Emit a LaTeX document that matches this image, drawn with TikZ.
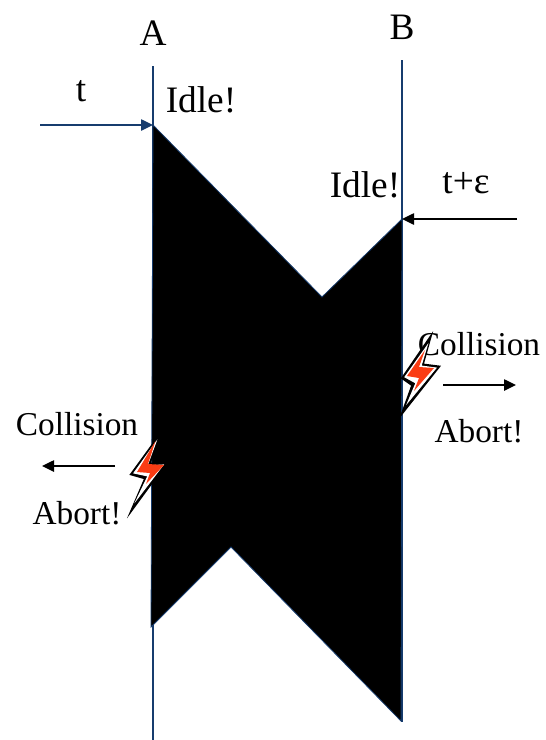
\documentclass[tikz,border=0pt]{standalone}
\usepackage{fontspec}
\setmainfont{Liberation Serif}
\usetikzlibrary{arrows.meta}
\definecolor{navy}{RGB}{22,60,110}
\definecolor{boltred}{RGB}{250,60,20}
\tikzset{
  x=0.75pt,y=-0.75pt,
  lab/.style={font=\fontsize{25}{28}\selectfont,inner sep=0pt,text=black},
  biglab/.style={font=\fontsize{28}{30}\selectfont,inner sep=0pt,text=black},
  wire/.style={draw=navy,line width=1.1pt},
  navarrow/.style={draw=navy,line width=1.1pt,-{Triangle[length=9pt,width=8.5pt]}},
  blkarrow/.style={draw=black,line width=1.1pt,-{Triangle[length=9pt,width=8.5pt]}},
  boltouter/.style={draw=black,fill=black,line width=2.4pt,miter limit=10,line join=miter},
  boltmid/.style={draw=white,fill=white,line width=0.8pt,miter limit=10},
  boltin/.style={fill=boltred}
}
\begin{document}
\begin{tikzpicture}
\useasboundingbox (0,0) rectangle (546,740);
\fill[white] (0,0) rectangle (546,740);
% timelines
\coordinate (Atop) at (153,66);
\coordinate (Abot) at (153,740);
\coordinate (Btop) at (402,60);
\coordinate (Bbot) at (402,722);
\coordinate (Ahit) at (153,125);
\coordinate (Bhit) at (402,219);
\coordinate (tstart) at (40,125);
\coordinate (estart) at (517,219);
\draw[wire] (Atop) -- (Abot);
\draw[wire] (Btop) -- (Bbot);
% signal shape
\fill[black,draw=navy,line width=0.6pt] (Ahit) -- (322,297) -- (Bhit) -- (401,721) -- (231,547) -- (151,627) -- cycle;
\draw[navarrow] (tstart) -- (Ahit);
\draw[blkarrow] (estart) -- (Bhit);
% labels
\node[biglab] (lA) at (153,33) {A};
\node[biglab] (lB) at (402,27) {B};
\node[biglab] (lt) at (81,91) {t};
\node[biglab] (lidleA) at (201,100) {Idle!};
\node[biglab] (lidleB) at (365,185) {Idle!};
\node[biglab] (lte) at (466,183) {t+ε};
\node[lab] (lcolL) at (77,424) {Collision};
\node[lab] (labL) at (77,513) {Abort!};
\node[lab] (lcolR) at (479,344) {Collision};
\node[lab] (labR) at (479,431) {Abort!};
% arrows
\coordinate (lfrom) at (115,466);
\coordinate (lto) at (42,466);
\coordinate (rfrom) at (443,385);
\coordinate (rto) at (516,385);
\draw[blkarrow] (lfrom) -- (lto);
\draw[blkarrow] (rfrom) -- (rto);
% left bolt
\path[boltouter] (156,441) -- (149,464) -- (164,465) -- (134,506) -- (146,478) -- (132,474) -- cycle;
\path[boltmid] (155.5,443) -- (147,466) -- (163,465) -- (137,499) -- (148,476) -- (134,473) -- cycle;
\path[boltin] (155.5,441) -- (148,464) -- (164,465) -- (146,484) -- (150,473) -- (137,472) -- cycle;
% right bolt
\path[boltouter] (429,340) -- (422,365) -- (438,367) -- (404,410) -- (413,385) -- (403,378) -- cycle;
\path[boltmid] (427,346) -- (421,366) -- (436,368) -- (408,402) -- (416,383) -- (405,377) -- cycle;
\path[boltin] (425,350) -- (419,367) -- (434,368) -- (414,391) -- (419,378) -- (407,376) -- cycle;
\end{tikzpicture}
\end{document}
